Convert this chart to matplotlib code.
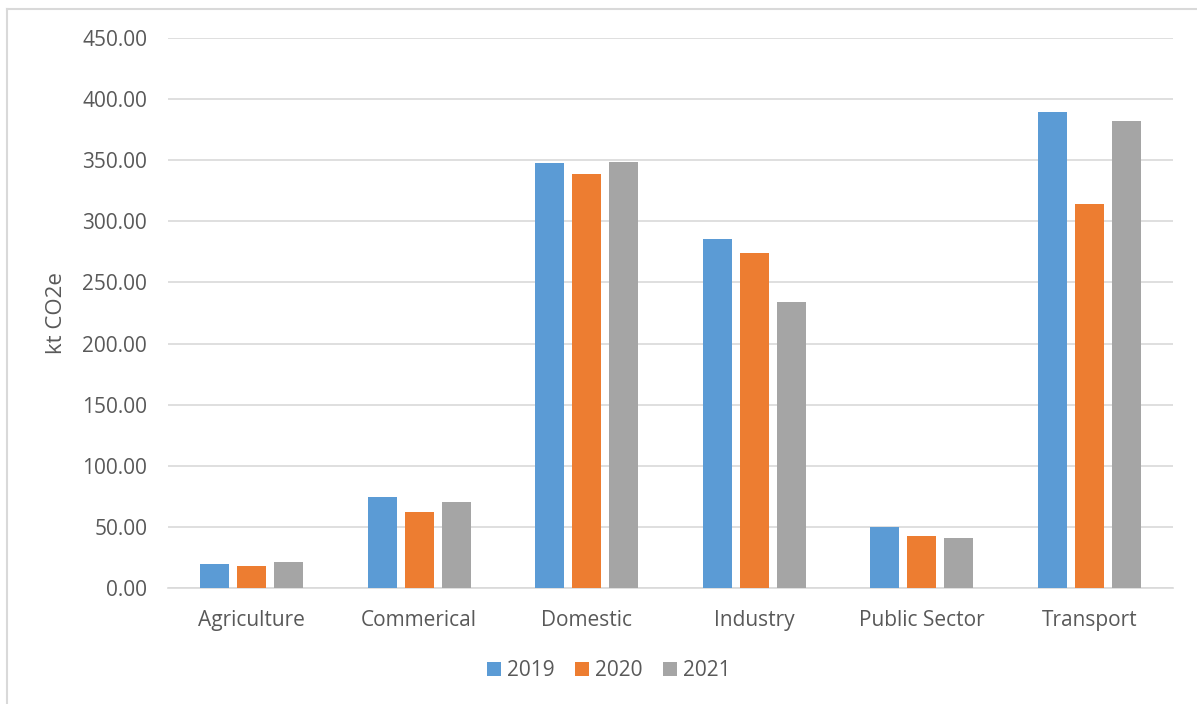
import matplotlib
matplotlib.use("Agg")
import matplotlib.pyplot as plt
import numpy as np
from matplotlib.lines import Line2D

sectors = ["Agriculture", "Commerical", "Domestic", "Industry", "Public Sector", "Transport"]
years = ["2019", "2020", "2021"]
v2019 = [19.7, 74.2, 348.0, 285.8, 50.0, 389.4]
v2020 = [18.3, 61.9, 339.0, 274.3, 42.8, 313.8]
v2021 = [21.3, 70.7, 348.2, 233.6, 40.9, 381.8]
colors = ["#5B9BD5", "#ED7D31", "#A5A5A5"]

plt.rcParams["font.family"] = ["Open Sans", "DejaVu Sans"]
text_col = "#595959"
grid_col = "#D9D9D9"

W, H = 1197, 704
fig = plt.figure(figsize=(W / 100, H / 100), dpi=100)
# chart-area border: only top and left edges are visible in the crop
fig.add_artist(Line2D([7 / W, 1], [1 - 9 / H, 1 - 9 / H], transform=fig.transFigure,
                      color=grid_col, lw=1.5))
fig.add_artist(Line2D([7 / W, 7 / W], [0, 1 - 9 / H], transform=fig.transFigure,
                      color=grid_col, lw=1.5))

ax = fig.add_axes([168 / W, 1 - 588 / H, (1173 - 168) / W, (588 - 38) / H])

x = np.arange(len(sectors))
width = 0.173
step = 0.221
for i, (vals, yr) in enumerate(zip([v2019, v2020, v2021], years)):
    ax.bar(x + (i - 1) * step, vals, width, color=colors[i], label=yr, zorder=3)

ax.set_xlim(-0.5, len(sectors) - 0.5)
ax.set_ylim(0, 450)
ax.set_yticks(np.arange(0, 451, 50))
ax.set_yticklabels([f"{v:.2f}" for v in np.arange(0, 451, 50)])
ax.set_xticks(x)
ax.set_xticklabels(sectors)

ax.grid(axis="y", color=grid_col, lw=1.2, zorder=0)
for s in ["top", "right", "left"]:
    ax.spines[s].set_visible(False)
ax.spines["bottom"].set_color(grid_col)
ax.spines["bottom"].set_linewidth(1.2)
ax.tick_params(axis="both", length=0, colors=text_col, labelsize=15)
ax.tick_params(axis="x", pad=16)
ax.tick_params(axis="y", pad=15)

ax.set_ylabel("kt CO2e", fontsize=16, color=text_col)
ax.yaxis.set_label_coords(-0.1005, 0.5)

fig.legend(loc="center", bbox_to_anchor=(609 / W, 1 - 671 / H), ncol=3, frameon=False,
           fontsize=15, handlelength=0.65, handleheight=0.65, handletextpad=0.3,
           columnspacing=1.0, labelcolor=text_col)

fig.savefig("out.png", dpi=100)
